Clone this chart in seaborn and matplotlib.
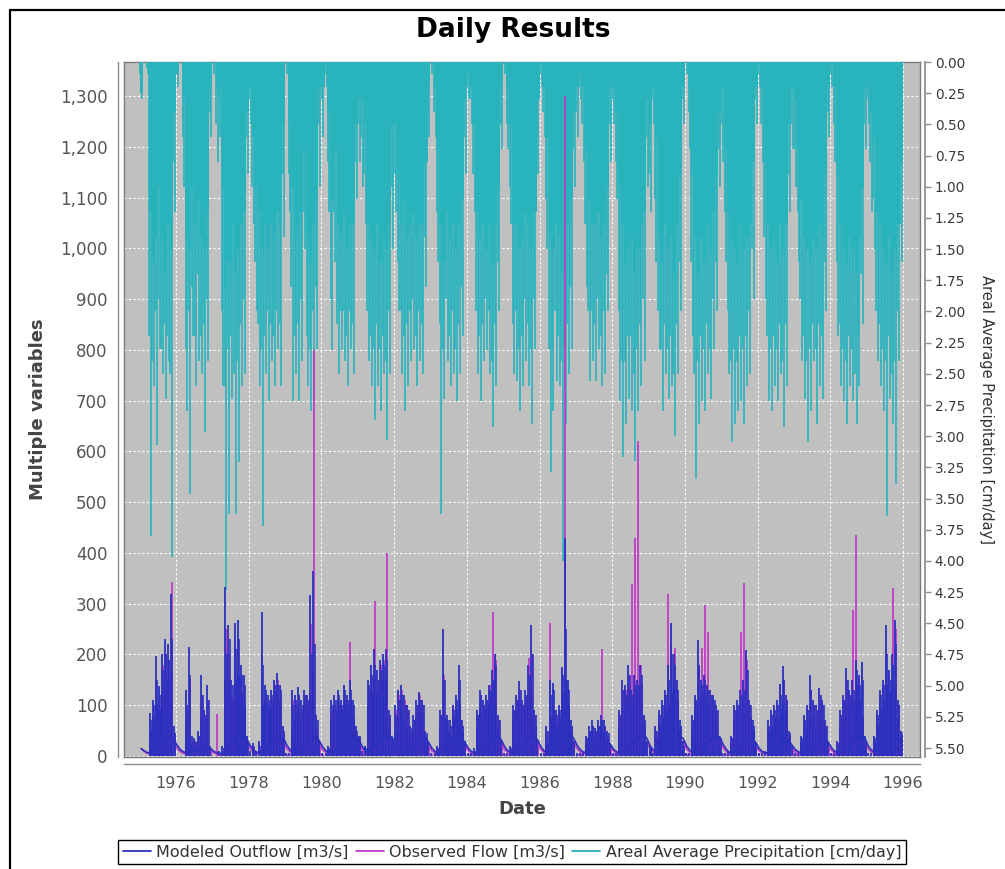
import datetime as dt
import numpy as np
import pandas as pd
import matplotlib
matplotlib.use("Agg")
import matplotlib.pyplot as plt
import matplotlib.dates as mdates
from matplotlib.lines import Line2D
from matplotlib.ticker import MultipleLocator, FuncFormatter
import seaborn as sns

# ---------------- data (monthly, Jan 1975 .. Dec 1995) ----------------
months = pd.date_range("1975-01-01", periods=252, freq="MS")

# Areal average precipitation [cm/day]: typical monthly depth, two monthly spikes
precip_bulk = [
    0.25, 0.0, 0.05, 1.2, 1.6, 1.4, 1.0, 1.4, 1.7, 1.3, 1.5, 0.4,   # 1975
    0.1, 0.0, 0.3, 1.4, 1.5, 1.0, 1.3, 1.1, 1.4, 1.5, 1.2, 0.2,     # 1976
    0.0, 0.2, 0.2, 1.0, 1.8, 1.6, 1.3, 1.7, 1.5, 1.3, 1.2, 0.4,     # 1977
    0.2, 0.6, 1.0, 1.2, 1.5, 1.3, 1.5, 1.3, 1.4, 1.2, 1.3, 0.5,     # 1978
    0.0, 0.5, 1.0, 1.4, 1.3, 1.2, 0.7, 1.4, 1.6, 1.3, 1.1, 0.2,     # 1979
    0.2, 0.0, 0.4, 1.1, 0.7, 1.3, 1.4, 1.2, 1.5, 1.3, 1.3, 0.5,     # 1980
    0.3, 0.3, 0.5, 1.3, 1.4, 1.5, 1.3, 1.6, 1.4, 1.5, 1.3, 0.5,     # 1981
    0.5, 0.9, 1.3, 1.1, 1.4, 1.3, 1.2, 1.4, 1.3, 1.3, 0.8, 0.2,     # 1982
    0.0, 0.2, 0.7, 1.3, 1.6, 1.2, 1.4, 1.3, 1.5, 1.3, 1.1, 0.3,     # 1983
    0.1, 0.2, 0.5, 1.2, 1.4, 1.3, 1.5, 1.3, 1.6, 1.3, 1.0, 0.2,     # 1984
    0.0, 0.2, 0.5, 1.3, 1.3, 1.5, 1.4, 1.2, 1.3, 1.5, 1.2, 0.3,     # 1985
    0.0, 0.2, 0.6, 1.4, 1.5, 1.3, 1.4, 1.7, 1.5, 1.3, 1.1, 0.4,     # 1986
    0.2, 0.1, 0.2, 0.7, 1.1, 1.3, 1.3, 1.2, 1.4, 1.3, 1.0, 0.2,     # 1987
    0.2, 0.4, 1.0, 1.3, 1.6, 1.5, 1.4, 1.7, 1.5, 1.3, 1.2, 0.3,     # 1988
    0.5, 0.2, 0.6, 1.4, 1.6, 1.3, 1.5, 1.4, 1.7, 1.3, 0.9, 0.2,     # 1989
    0.0, 0.2, 0.9, 1.4, 1.7, 1.4, 1.6, 1.3, 1.5, 1.2, 0.9, 0.4,     # 1990
    0.2, 0.7, 1.2, 1.4, 1.5, 1.6, 1.3, 1.5, 1.4, 1.3, 0.8, 0.2,     # 1991
    0.0, 0.2, 0.8, 1.3, 1.5, 1.4, 1.6, 1.3, 1.5, 1.3, 0.5, 0.2,     # 1992
    0.3, 0.7, 1.1, 1.4, 1.5, 1.6, 1.4, 1.5, 1.3, 1.4, 0.9, 0.2,     # 1993
    0.0, 0.2, 0.9, 1.3, 1.5, 1.6, 1.4, 1.5, 1.7, 1.4, 1.0, 0.2,     # 1994
    0.2, 0.4, 0.6, 1.2, 1.3, 1.5, 1.6, 1.4, 1.7, 1.5, 1.3, 0.8,     # 1995
]
precip_mid = [
    0.1, 0.0, 0.0, 2.2, 2.4, 2.0, 1.9, 2.3, 2.1, 2.2, 2.5, 0.8,     # 1975
    0.0, 0.0, 0.6, 2.3, 2.0, 1.8, 2.2, 1.7, 2.2, 2.1, 1.9, 0.4,     # 1976
    0.0, 0.5, 0.3, 2.0, 2.6, 2.3, 2.2, 2.5, 2.4, 2.1, 1.9, 0.6,     # 1977
    0.3, 1.0, 1.6, 2.1, 2.3, 2.2, 2.0, 2.1, 2.2, 2.0, 2.1, 0.9,     # 1978
    0.0, 0.9, 1.8, 2.2, 2.1, 1.9, 1.2, 2.2, 2.3, 2.0, 1.8, 0.5,     # 1979
    0.3, 0.1, 0.8, 1.9, 1.2, 2.1, 2.0, 2.0, 2.2, 2.0, 2.1, 0.8,     # 1980
    0.5, 0.6, 0.9, 2.0, 2.2, 2.3, 2.1, 2.3, 2.2, 2.4, 2.0, 1.0,     # 1981
    0.9, 1.6, 2.0, 2.2, 2.1, 2.0, 1.9, 2.2, 2.0, 2.1, 1.4, 0.4,     # 1982
    0.0, 0.4, 1.2, 2.1, 2.3, 1.9, 2.2, 2.0, 2.3, 2.1, 1.8, 0.6,     # 1983
    0.2, 0.3, 0.9, 2.0, 2.2, 2.1, 1.9, 2.0, 2.4, 2.1, 1.6, 0.5,     # 1984
    0.0, 0.5, 1.0, 2.1, 2.0, 2.3, 2.2, 1.9, 2.1, 2.3, 1.9, 0.6,     # 1985
    0.1, 0.4, 1.1, 2.3, 2.3, 2.0, 2.2, 2.4, 2.3, 2.1, 1.8, 0.7,     # 1986
    0.4, 0.2, 0.5, 1.3, 2.0, 2.0, 2.1, 1.9, 2.2, 2.0, 1.7, 0.5,     # 1987
    0.3, 0.8, 2.0, 2.4, 2.4, 2.2, 2.2, 2.5, 2.3, 2.1, 1.9, 0.6,     # 1988
    0.9, 0.3, 1.1, 2.0, 2.3, 2.1, 2.3, 2.2, 2.5, 2.1, 1.6, 0.3,     # 1989
    0.0, 0.4, 1.6, 2.5, 2.4, 2.2, 2.3, 2.1, 2.3, 1.9, 1.6, 0.7,     # 1990
    0.5, 1.2, 2.0, 2.4, 2.3, 2.4, 2.2, 2.3, 2.2, 2.0, 1.5, 0.3,     # 1991
    0.1, 0.5, 1.4, 2.2, 2.3, 2.2, 2.3, 2.1, 2.4, 2.1, 0.9, 0.5,     # 1992
    0.7, 1.2, 1.9, 2.2, 2.4, 2.3, 2.1, 2.3, 2.1, 2.2, 1.6, 0.4,     # 1993
    0.1, 0.5, 1.6, 2.1, 2.3, 2.4, 2.2, 2.3, 2.5, 2.2, 1.7, 0.5,     # 1994
    0.3, 0.8, 1.1, 2.0, 2.1, 2.3, 2.4, 2.2, 2.5, 2.4, 2.0, 1.3,     # 1995
]
precip_peak = [
    0.3, 0.0, 0.1, 3.80, 2.6, 3.07, 2.3, 2.5, 2.7, 2.4, 3.97, 1.2,   # 1975
    0.2, 0.0, 1.0, 2.8, 3.46, 2.2, 2.6, 2.4, 2.5, 2.97, 2.4, 0.6,    # 1976
    0.1, 0.8, 0.6, 2.6, 4.23, 3.62, 2.7, 3.62, 3.21, 2.6, 2.5, 0.9,  # 1977
    0.5, 1.3, 2.0, 2.6, 3.72, 2.5, 2.72, 2.4, 2.6, 2.3, 2.6, 1.4,    # 1978
    0.1, 1.2, 2.72, 2.5, 2.72, 2.4, 1.5, 2.60, 2.8, 2.72, 2.3, 1.0,  # 1979
    0.6, 0.2, 1.2, 2.31, 1.6, 2.5, 2.31, 2.4, 2.6, 2.3, 2.5, 1.1,    # 1980
    0.8, 1.0, 1.3, 2.4, 2.6, 2.87, 2.6, 2.8, 2.5, 3.03, 2.5, 1.5,    # 1981
    1.2, 2.0, 2.5, 2.80, 2.6, 2.4, 2.31, 2.6, 2.4, 2.5, 1.8, 0.6,    # 1982
    0.1, 0.6, 1.6, 3.62, 2.7, 2.4, 2.6, 2.5, 2.72, 2.5, 2.2, 0.9,    # 1983
    0.3, 0.5, 1.2, 2.5, 2.72, 2.4, 2.31, 2.5, 2.93, 2.6, 2.0, 0.7,   # 1984
    0.1, 0.7, 1.3, 2.5, 2.56, 2.8, 2.6, 2.4, 2.6, 2.9, 2.3, 0.9,     # 1985
    0.2, 0.6, 1.5, 3.29, 2.8, 2.56, 2.6, 4.0, 2.9, 2.5, 2.3, 1.0,    # 1986
    0.6, 0.3, 0.8, 1.8, 2.56, 2.4, 2.56, 2.3, 2.6, 2.5, 2.0, 0.8,    # 1987
    0.5, 1.1, 2.72, 3.17, 2.9, 2.7, 2.8, 3.2, 2.8, 2.6, 2.4, 1.0,    # 1988
    1.2, 0.5, 1.6, 2.31, 2.8, 2.5, 2.7, 2.6, 3.0, 2.5, 2.0, 0.5,     # 1989
    0.1, 0.7, 2.2, 3.34, 2.9, 2.72, 2.8, 2.5, 2.7, 2.3, 2.0, 1.0,    # 1990
    0.8, 1.6, 2.5, 3.05, 2.9, 2.8, 2.72, 2.9, 2.6, 2.5, 1.9, 0.5,    # 1991
    0.2, 0.8, 1.9, 2.72, 2.8, 2.6, 2.72, 2.5, 2.93, 2.6, 1.2, 0.7,   # 1992
    1.0, 1.6, 2.4, 2.7, 3.05, 2.8, 2.40, 2.9, 2.6, 2.7, 2.0, 0.6,    # 1993
    0.2, 0.8, 2.2, 2.6, 2.72, 2.9, 2.6, 2.72, 2.9, 2.6, 2.1, 0.7,    # 1994
    0.5, 1.2, 1.5, 2.4, 2.6, 2.8, 3.64, 2.7, 2.9, 3.38, 2.40, 1.6,   # 1995
]

# Modeled outflow [m3/s]: dense wet-season level, two monthly spikes, recession baseflow
modeled_bulk = [
    0, 0, 0, 50, 75, 100, 90, 125, 140, 150, 160, 0,       # 1975
    0, 0, 0, 60, 90, 25, 20, 25, 75, 65, 70, 0,            # 1976
    0, 0, 0, 0, 150, 140, 110, 150, 160, 125, 100, 0,      # 1977
    0, 12, 0, 0, 100, 110, 100, 90, 110, 125, 110, 35,     # 1978
    0, 0, 50, 75, 90, 75, 100, 90, 125, 160, 50, 0,        # 1979
    0, 0, 0, 75, 90, 100, 90, 110, 100, 110, 75, 35,       # 1980
    35, 0, 0, 100, 125, 150, 125, 140, 150, 160, 60, 25,   # 1981
    50, 75, 90, 75, 60, 40, 50, 75, 90, 75, 35, 0,         # 1982
    0, 0, 0, 60, 75, 50, 40, 75, 90, 100, 50, 0,           # 1983
    0, 0, 0, 60, 90, 75, 90, 100, 125, 150, 60, 0,         # 1984
    0, 0, 0, 75, 90, 100, 75, 90, 110, 140, 60, 0,         # 1985
    0, 0, 25, 75, 90, 60, 75, 125, 150, 100, 50, 0,        # 1986
    0, 0, 0, 25, 35, 50, 40, 50, 60, 50, 35, 0,            # 1987
    0, 0, 60, 90, 100, 110, 100, 110, 125, 140, 60, 0,     # 1988
    12, 0, 35, 60, 75, 90, 100, 125, 140, 110, 50, 12,     # 1989
    0, 0, 50, 90, 100, 110, 125, 110, 100, 90, 75, 25,     # 1990
    0, 0, 0, 25, 75, 90, 90, 100, 110, 75, 50, 0,          # 1991
    0, 0, 0, 50, 60, 75, 75, 90, 100, 90, 35, 0,           # 1992
    0, 0, 25, 50, 60, 75, 75, 60, 90, 75, 50, 0,           # 1993
    0, 0, 12, 60, 90, 100, 90, 110, 140, 110, 75, 12,      # 1994
    0, 0, 25, 60, 90, 110, 140, 125, 150, 140, 75, 35,     # 1995
]
modeled_mid = [
    0, 0, 0, 70, 100, 150, 120, 170, 200, 190, 230, 45,    # 1975
    0, 0, 0, 100, 160, 35, 28, 40, 120, 80, 110, 0,        # 1976
    0, 0, 0, 15, 200, 230, 140, 210, 230, 160, 140, 30,    # 1977
    0, 18, 0, 20, 180, 130, 110, 120, 140, 140, 130, 50,   # 1978
    0, 0, 100, 110, 120, 100, 120, 110, 200, 220, 70, 0,   # 1979
    0, 0, 15, 100, 110, 120, 100, 130, 110, 130, 100, 50,  # 1980
    40, 0, 15, 140, 160, 180, 150, 170, 180, 190, 80, 35,  # 1981
    80, 110, 120, 100, 90, 55, 70, 100, 110, 100, 45, 0,   # 1982
    0, 0, 15, 80, 150, 70, 60, 90, 110, 150, 60, 0,        # 1983
    0, 0, 10, 80, 120, 100, 110, 130, 150, 180, 70, 0,     # 1984
    0, 0, 15, 90, 110, 130, 100, 120, 160, 200, 80, 0,     # 1985
    0, 0, 50, 120, 130, 80, 90, 160, 250, 130, 60, 0,      # 1986
    0, 0, 0, 35, 50, 60, 50, 60, 70, 60, 45, 0,            # 1987
    0, 0, 80, 130, 120, 160, 120, 140, 140, 160, 70, 0,    # 1988
    15, 0, 50, 80, 100, 120, 150, 200, 180, 130, 60, 20,   # 1989
    0, 0, 70, 110, 180, 140, 150, 130, 120, 110, 90, 35,   # 1990
    0, 0, 0, 35, 90, 100, 120, 130, 170, 100, 60, 0,       # 1991
    0, 0, 0, 60, 80, 90, 100, 120, 150, 110, 45, 0,        # 1992
    0, 0, 35, 70, 90, 130, 100, 90, 120, 100, 60, 0,       # 1993
    0, 0, 25, 80, 110, 150, 120, 130, 170, 140, 150, 30,   # 1994
    0, 0, 35, 80, 120, 140, 200, 150, 180, 220, 100, 45,   # 1995
]
modeled_peak = [
    0, 0, 0, 84, 110, 196, 137, 200, 230, 220, 320, 60,    # 1975
    0, 0, 0, 130, 214, 40, 30, 50, 160, 90, 140, 20,       # 1976
    0, 0, 10, 20, 332, 258, 150, 262, 268, 180, 160, 40,   # 1977
    10, 25, 10, 30, 283, 140, 120, 130, 150, 163, 140, 60, # 1978
    5, 5, 130, 120, 135, 110, 130, 120, 317, 365, 80, 30,  # 1979
    5, 5, 20, 110, 120, 130, 110, 140, 120, 150, 110, 60,  # 1980
    40, 10, 20, 150, 180, 210, 170, 190, 200, 210, 90, 40, # 1981
    100, 130, 140, 120, 100, 60, 80, 110, 127, 110, 50, 25,# 1982
    5, 5, 20, 90, 251, 80, 70, 100, 120, 180, 70, 30,      # 1983
    5, 5, 15, 90, 130, 110, 120, 140, 170, 200, 80, 30,    # 1984
    5, 5, 20, 100, 120, 147, 110, 130, 180, 258, 90, 30,   # 1985
    5, 5, 60, 150, 144, 90, 100, 176, 430, 150, 70, 30,    # 1986
    5, 5, 5, 40, 60, 71, 55, 70, 80, 70, 50, 25,           # 1987
    5, 5, 90, 150, 140, 180, 130, 160, 150, 180, 80, 30,   # 1988
    20, 5, 60, 90, 110, 130, 180, 261, 200, 150, 70, 30,   # 1989
    5, 5, 80, 120, 229, 150, 160, 140, 130, 120, 100, 40,  # 1990
    5, 5, 10, 40, 100, 110, 130, 150, 208, 110, 70, 25,    # 1991
    5, 5, 10, 70, 90, 100, 110, 142, 177, 120, 50, 20,     # 1992
    5, 5, 40, 80, 100, 160, 110, 100, 134, 110, 70, 25,    # 1993
    5, 5, 30, 90, 120, 173, 130, 150, 190, 160, 186, 40,   # 1994
    5, 5, 40, 90, 130, 150, 258, 170, 200, 268, 110, 50,   # 1995
]
modeled_base = [
    14, 10, 7, 6, 8, 12, 18, 24, 30, 36, 39, 30,   # 1975
    20, 12, 8, 6, 8, 10, 12, 12, 14, 16, 18, 14,   # 1976
    9, 6, 5, 5, 10, 16, 22, 28, 32, 36, 38, 32,    # 1977
    20, 12, 8, 6, 10, 15, 20, 25, 30, 33, 36, 35,  # 1978
    22, 13, 8, 7, 10, 15, 20, 25, 30, 36, 38, 28,  # 1979
    17, 10, 7, 6, 10, 15, 20, 25, 28, 32, 34, 36,  # 1980
    30, 18, 10, 8, 12, 18, 24, 28, 32, 36, 38, 30, # 1981
    18, 14, 12, 12, 14, 16, 20, 25, 30, 33, 35, 26,# 1982
    15, 9, 6, 6, 10, 14, 18, 22, 26, 30, 33, 26,   # 1983
    15, 9, 6, 6, 10, 15, 20, 25, 30, 36, 40, 30,   # 1984
    18, 10, 7, 6, 10, 15, 20, 25, 30, 35, 38, 30,  # 1985
    18, 10, 7, 8, 12, 16, 22, 28, 34, 40, 42, 32,  # 1986
    20, 12, 8, 6, 8, 10, 14, 18, 20, 22, 25, 22,   # 1987
    13, 8, 6, 8, 12, 18, 24, 30, 35, 40, 42, 34,   # 1988
    20, 12, 8, 8, 12, 16, 22, 28, 32, 36, 38, 34,  # 1989
    20, 12, 8, 8, 12, 18, 24, 28, 32, 35, 37, 38,  # 1990
    24, 14, 8, 6, 9, 14, 18, 22, 26, 30, 32, 26,   # 1991
    15, 9, 6, 6, 9, 14, 18, 22, 26, 30, 28, 20,    # 1992
    12, 8, 6, 7, 10, 14, 18, 22, 26, 30, 32, 26,   # 1993
    15, 9, 6, 7, 10, 15, 20, 26, 32, 36, 40, 34,   # 1994
    20, 12, 8, 8, 12, 16, 22, 28, 32, 36, 34, 22,  # 1995
]

# Observed flow [m3/s]: monthly maximum and recession baseflow
observed_peak = [
    0, 0, 0, 50, 80, 150, 100, 180, 200, 190, 343, 45,     # 1975
    0, 0, 0, 90, 150, 30, 25, 40, 120, 80, 110, 15,        # 1976
    0, 82, 5, 10, 250, 200, 120, 220, 230, 150, 130, 35,   # 1977
    8, 20, 8, 25, 200, 120, 100, 110, 140, 150, 120, 45,   # 1978
    4, 4, 110, 100, 120, 90, 120, 110, 260, 800, 60, 25,   # 1979
    4, 4, 15, 90, 100, 110, 100, 120, 110, 225, 100, 50,   # 1980
    30, 8, 15, 130, 160, 305, 150, 180, 190, 399, 80, 30,  # 1981
    90, 120, 130, 110, 90, 50, 70, 100, 120, 100, 40, 20,  # 1982
    4, 4, 15, 80, 160, 70, 60, 95, 110, 150, 60, 25,       # 1983
    4, 4, 10, 80, 120, 100, 110, 140, 284, 190, 70, 25,    # 1984
    4, 4, 15, 90, 110, 130, 100, 120, 193, 200, 80, 25,    # 1985
    4, 4, 50, 262, 130, 80, 90, 170, 1300, 140, 60, 25,    # 1986
    4, 4, 4, 35, 50, 60, 50, 60, 210, 60, 40, 20,          # 1987
    4, 4, 80, 130, 130, 160, 339, 430, 620, 180, 70, 25,   # 1988
    15, 4, 50, 80, 100, 120, 320, 220, 212, 130, 60, 25,   # 1989
    4, 4, 70, 110, 180, 212, 298, 245, 120, 110, 90, 30,   # 1990
    4, 4, 8, 35, 90, 100, 245, 340, 190, 100, 60, 20,      # 1991
    4, 4, 8, 60, 80, 90, 100, 142, 150, 110, 40, 15,       # 1992
    4, 4, 30, 70, 90, 130, 100, 90, 120, 100, 60, 20,      # 1993
    4, 4, 25, 80, 110, 150, 120, 287, 435, 150, 170, 30,   # 1994
    4, 4, 30, 80, 120, 140, 200, 160, 330, 250, 100, 40,   # 1995
]
observed_base = [
    15, 9, 5, 4, 6, 9, 14, 18, 22, 26, 30, 24,   # 1975
    14, 8, 5, 4, 5, 7, 9, 9, 10, 12, 14, 10,     # 1976
    6, 4, 3, 3, 7, 12, 16, 20, 24, 27, 30, 24,   # 1977
    14, 8, 5, 4, 7, 11, 15, 19, 23, 26, 28, 27,  # 1978
    15, 9, 5, 5, 7, 11, 15, 19, 23, 28, 30, 20,  # 1979
    12, 7, 5, 4, 7, 11, 15, 19, 21, 24, 26, 28,  # 1980
    22, 12, 7, 6, 9, 13, 18, 21, 24, 28, 30, 22, # 1981
    13, 10, 9, 9, 10, 12, 15, 19, 23, 25, 27, 19,# 1982
    10, 6, 4, 4, 7, 10, 13, 16, 20, 23, 25, 19,  # 1983
    10, 6, 4, 4, 7, 11, 15, 19, 23, 28, 31, 22,  # 1984
    12, 7, 5, 4, 7, 11, 15, 19, 23, 27, 29, 22,  # 1985
    12, 7, 5, 6, 9, 12, 16, 21, 26, 31, 33, 24,  # 1986
    14, 8, 5, 4, 6, 7, 10, 13, 15, 17, 19, 16,   # 1987
    9, 5, 4, 6, 9, 13, 18, 23, 27, 31, 33, 26,   # 1988
    14, 8, 5, 6, 9, 12, 16, 21, 24, 28, 30, 26,  # 1989
    14, 8, 5, 6, 9, 13, 18, 21, 24, 27, 28, 29,  # 1990
    17, 10, 5, 4, 6, 10, 13, 16, 20, 23, 24, 19, # 1991
    10, 6, 4, 4, 6, 10, 13, 16, 20, 23, 21, 14,  # 1992
    8, 5, 4, 5, 7, 10, 13, 16, 20, 23, 24, 19,   # 1993
    10, 6, 4, 5, 7, 11, 15, 20, 24, 28, 31, 26,  # 1994
    14, 8, 5, 6, 9, 12, 16, 21, 24, 28, 26, 18,  # 1995
]

series_labels = ["Modeled Outflow [m3/s]", "Observed Flow [m3/s]",
                 "Areal Average Precipitation [cm/day]"]

# ---------------- style ----------------
BLUE = "#2A30BE"
MAGENTA = "#C13BC8"
TEAL = "#28B3BD"
GRAYBG = "#C0C0C0"
AXCOL = "#8C8C8C"

sns.set_theme(style="white")
plt.rcParams["font.family"] = ["DejaVu Sans"]

W, H = 1005, 869
fig = plt.figure(figsize=(W / 100, H / 100), dpi=100)
fig.patch.set_facecolor("white")
L, R, T, B = 124, 920, 62, 757
rect = [L / W, 1 - B / H, (R - L) / W, (B - T) / H]
xlim = (dt.datetime(1974, 7, 27), dt.datetime(1996, 6, 20))
left_lim = (-2, 1367)
right_lim = (5.572, 0)
day = pd.Timedelta(days=1)

# background axes: gray plot area + grid
ax_bg = fig.add_axes(rect, zorder=0)
ax_bg.set_facecolor(GRAYBG)
ax_bg.set_xlim(xlim)
ax_bg.set_ylim(left_lim)
ax_bg.xaxis.set_major_locator(mdates.YearLocator(2))
ax_bg.yaxis.set_major_locator(MultipleLocator(100))
ax_bg.grid(True, color="white", linestyle=(0, (2, 2)), linewidth=0.8)
ax_bg.tick_params(left=False, bottom=False, labelleft=False, labelbottom=False)
for s in ax_bg.spines.values():
    s.set_color("#7A7A7A")
    s.set_linewidth(1.0)

# precipitation axes (right, inverted)
ax2 = fig.add_axes(rect, zorder=1)
ax2.patch.set_visible(False)
ax2.bar(months, precip_bulk, width=31, align="edge", color=TEAL, linewidth=0)
ax2.vlines(months + 5 * day, 0, precip_mid, color=TEAL, linewidth=1.2)
ax2.vlines(months + 20 * day, 0, precip_peak, color=TEAL, linewidth=1.2)
ax2.set_xlim(xlim)
ax2.set_ylim(right_lim)
ax2.yaxis.tick_right()
ax2.yaxis.set_label_position("right")
ax2.yaxis.set_major_locator(MultipleLocator(0.25))
ax2.yaxis.set_major_formatter(FuncFormatter(lambda v, p: f"{v:.2f}"))
ax2.tick_params(axis="x", bottom=False, labelbottom=False)
ax2.tick_params(axis="y", right=True, left=False, direction="out", length=4, width=1,
                color=AXCOL, labelsize=9.8, labelcolor="#3A3A3A", pad=3)
for k in ["left", "top", "bottom"]:
    ax2.spines[k].set_visible(False)
ax2.spines["right"].set_position(("outward", 3.6))
ax2.spines["right"].set_color(AXCOL)
ax2.set_ylabel("Areal Average Precipitation [cm/day]", rotation=270, va="bottom",
               fontsize=10.5, color="#333333", labelpad=10)

# flow axes (left)
ax = fig.add_axes(rect, zorder=2)
ax.patch.set_visible(False)
ax.vlines(months + 17 * day, 0, observed_peak, color=MAGENTA, linewidth=1.3)
sns.lineplot(x=months + 15 * day, y=observed_base, ax=ax, color=MAGENTA, linewidth=1.2)
ax.bar(months, modeled_bulk, width=31, align="edge", color=BLUE, linewidth=0)
ax.vlines(months + 24 * day, 0, modeled_mid, color=BLUE, linewidth=1.2)
ax.vlines(months + 10 * day, 0, modeled_peak, color=BLUE, linewidth=1.3)
sns.lineplot(x=months + 15 * day, y=modeled_base, ax=ax, color=BLUE, linewidth=1.2)
ax.set_xlim(xlim)
ax.set_ylim(left_lim)
ax.xaxis.set_major_locator(mdates.YearLocator(2))
ax.xaxis.set_major_formatter(mdates.DateFormatter("%Y"))
ax.yaxis.set_major_locator(MultipleLocator(100))
ax.yaxis.set_major_formatter(FuncFormatter(lambda v, p: f"{int(round(v)):,}"))
ax.tick_params(axis="y", direction="out", length=4, width=1, color=AXCOL,
               labelsize=12, labelcolor="#555555", pad=3.5)
ax.tick_params(axis="x", direction="out", length=4, width=1, color=AXCOL,
               labelsize=11.5, labelcolor="#555555", pad=5)
for k in ["right", "top"]:
    ax.spines[k].set_visible(False)
ax.spines["left"].set_position(("outward", 4.3))
ax.spines["bottom"].set_position(("outward", 5.0))
for k in ["left", "bottom"]:
    ax.spines[k].set_color(AXCOL)
    ax.spines[k].set_linewidth(1.0)
ax.set_ylabel("Multiple variables", fontsize=13, fontweight="bold", color="#444444",
              labelpad=9)
ax.set_xlabel("Date", fontsize=13, fontweight="bold", color="#444444", labelpad=6)
ax.grid(False)

# title
fig.text(513 / W, 1 - 30 / H, "Daily Results", ha="center", va="center",
         fontsize=19, fontweight="bold", color="black")

# legend
handles = [Line2D([], [], color=BLUE, lw=1.3),
           Line2D([], [], color=MAGENTA, lw=1.3),
           Line2D([], [], color=TEAL, lw=1.3)]
leg = fig.legend(handles, series_labels, loc="center",
                 bbox_to_anchor=(512 / W, 1 - 852 / H), ncol=3, frameon=True,
                 fancybox=False, edgecolor="black", fontsize=11.5, handlelength=1.75,
                 handletextpad=0.35, columnspacing=0.45, borderpad=0.3,
                 framealpha=1)
leg.get_frame().set_linewidth(1.0)
for t in leg.get_texts():
    t.set_color("#333333")

# outer chart frame (left and top edges)
fig.add_artist(Line2D([9.5 / W, 9.5 / W], [0, 1 - 9.5 / H], transform=fig.transFigure,
                      color="black", lw=1.6))
fig.add_artist(Line2D([9.5 / W, 1], [1 - 9.5 / H, 1 - 9.5 / H], transform=fig.transFigure,
                      color="black", lw=1.6))

fig.savefig("out.png", dpi=100)
